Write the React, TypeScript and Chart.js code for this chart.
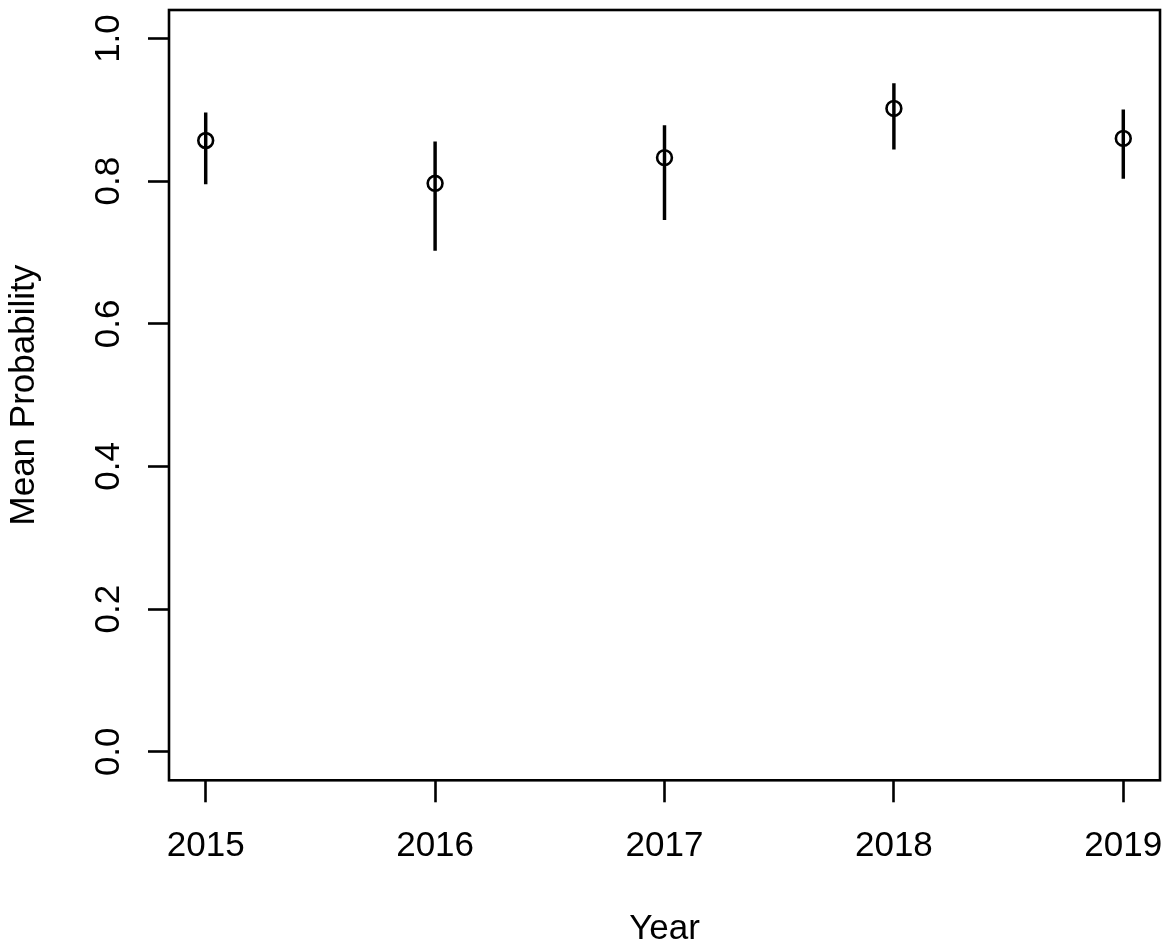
import { useEffect, useRef } from "react"
import { Chart, type ChartConfiguration, registerables } from "chart.js"

Chart.register(...registerables)

// values
const years = [2015, 2016, 2017, 2018, 2019]
const meanProb = [0.857, 0.797, 0.833, 0.902, 0.86]
const lowerProb = [0.796, 0.703, 0.746, 0.845, 0.804]
const upperProb = [0.896, 0.855, 0.878, 0.937, 0.9]
const yTicks = [0, 0.2, 0.4, 0.6, 0.8, 1.0]

const FONT = "'Liberation Sans', Arial, sans-serif"

// R-style closed box round the plot area
const boxPlugin = {
	id: "rBox",
	afterDraw(chart: Chart) {
		const { ctx, chartArea } = chart
		ctx.save()
		ctx.strokeStyle = "#000"
		ctx.lineWidth = 2.6
		ctx.strokeRect(chartArea.left, chartArea.top, chartArea.right - chartArea.left, chartArea.bottom - chartArea.top)
		ctx.restore()
	},
}

export default function App() {
	const canvasRef = useRef<HTMLCanvasElement>(null)
	const chartRef = useRef<Chart | null>(null)

	useEffect(() => {
		if (!canvasRef.current) return
		if (chartRef.current) chartRef.current.destroy()

		const config: ChartConfiguration = {
			type: "scatter",
			data: {
				datasets: [
					{
						type: "bar",
						label: "interval",
						data: years.map((y, i) => ({ x: y, y: [lowerProb[i], upperProb[i]] })) as any,
						backgroundColor: "#000",
						borderWidth: 0,
						barThickness: 2.8,
						grouped: false,
					} as any,
					{
						type: "scatter",
						label: "mean",
						data: years.map((y, i) => ({ x: y, y: meanProb[i] })),
						showLine: false,
						pointStyle: "circle",
						pointRadius: 7.4,
						pointHoverRadius: 7.4,
						borderColor: "#000",
						borderWidth: 2.6,
						backgroundColor: "rgba(0,0,0,0)",
					},
				],
			},
			options: {
				animation: false,
				responsive: true,
				maintainAspectRatio: false,
				layout: { padding: { top: 9.5, right: 8.5, left: 0, bottom: 0 } },
				plugins: {
					legend: { display: false },
					tooltip: { enabled: false },
				},
				scales: {
					x: {
						type: "linear",
						min: 2014.84,
						max: 2019.16,
						offset: false,
						afterBuildTicks: (scale) => {
							scale.ticks = years.map((v) => ({ value: v }))
						},
						afterFit: (scale: any) => {
							scale.height = 170.7
							scale.paddingLeft = 0
							scale.paddingRight = 0
						},
						ticks: {
							color: "#000",
							font: { size: 35, family: FONT },
							padding: 23,
							maxRotation: 0,
							callback: (v) => String(v),
						},
						grid: {
							offset: false,
							drawOnChartArea: false,
							drawTicks: true,
							tickLength: 22,
							tickWidth: 2.6,
							tickColor: "#000",
						},
						border: { display: false },
						title: {
							display: true,
							text: "Year",
							color: "#000",
							font: { size: 35, family: FONT },
							padding: { top: 0, bottom: 1 },
						},
					},
					y: {
						type: "linear",
						min: -0.04,
						max: 1.04,
						afterBuildTicks: (scale) => {
							scale.ticks = yTicks.map((v) => ({ value: v }))
						},
						afterFit: (scale: any) => {
							scale.width = 169
							scale.paddingTop = 0
							scale.paddingBottom = 0
						},
						ticks: {
							color: "#000",
							font: { size: 35, family: FONT },
							padding: 14,
							minRotation: 90,
							maxRotation: 90,
							crossAlign: "center",
							callback: (v) => Number(v).toFixed(1),
						},
						grid: {
							drawOnChartArea: false,
							drawTicks: true,
							tickLength: 21,
							tickWidth: 2.6,
							tickColor: "#000",
						},
						border: { display: false },
						title: {
							display: true,
							text: "Mean Probability",
							color: "#000",
							font: { size: 35, family: FONT },
							padding: { top: 3, bottom: 0 },
						},
					},
				},
			},
			plugins: [boxPlugin],
		}

		chartRef.current = new Chart(canvasRef.current, config)

		return () => {
			if (chartRef.current) {
				chartRef.current.destroy()
				chartRef.current = null
			}
		}
	}, [])

	return (
		<div style={{ position: "fixed", left: 0, top: 0, width: 1170, height: 951, background: "#fff" }}>
			<canvas ref={canvasRef}></canvas>
		</div>
	)
}
